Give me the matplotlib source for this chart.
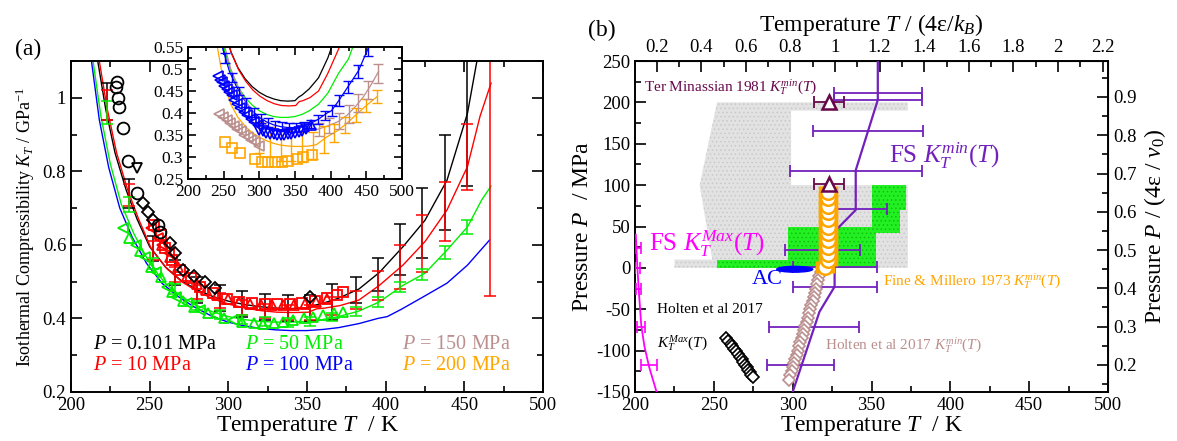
import matplotlib
matplotlib.use('Agg')
from matplotlib import pyplot as plt
from matplotlib.patches import Ellipse, Polygon
from matplotlib.ticker import MultipleLocator, FuncFormatter

plt.rcParams['font.family'] = 'Liberation Serif'
plt.rcParams['mathtext.fontset'] = 'custom'
plt.rcParams['mathtext.rm'] = 'Liberation Serif'
plt.rcParams['mathtext.it'] = 'Liberation Serif:italic'
plt.rcParams['axes.unicode_minus'] = False
plt.rcParams['hatch.linewidth'] = 0.6

BLACK = 'black'
RED = '#ff0000'
GREEN = '#00ee00'
BLUE = '#0000ff'
BROWN = '#bc8f8f'
ORANGE = '#ffa500'
INDIGO = '#7221bc'
MAROON = '#67074a'
MAGENTA = '#ff00ff'

#############################
## (a) simulation isobars K_T(T)
#############################
T_0101 = [217, 222, 228, 235, 242, 250, 260, 270, 280, 290, 300, 310, 320, 330, 340, 350, 355,
          360, 370, 383, 396, 411, 425, 439, 452, 458]
K_0101 = [1.10, 0.97, 0.85, 0.75, 0.67, 0.595, 0.54, 0.503, 0.478, 0.46, 0.447, 0.438, 0.432,
          0.428, 0.427, 0.428, 0.436, 0.441, 0.455, 0.48, 0.525, 0.595, 0.667, 0.776, 0.958, 1.10]

T_10 = [218, 223, 229, 236, 243, 251, 261, 271, 281, 291, 301, 311, 321, 331, 341, 351, 356,
        361, 371, 383, 396, 411, 425, 439, 452, 460, 467]
K_10 = [1.10, 0.97, 0.85, 0.75, 0.67, 0.59, 0.535, 0.498, 0.472, 0.452, 0.438, 0.428, 0.421,
        0.417, 0.416, 0.417, 0.426, 0.428, 0.435, 0.45, 0.49, 0.545, 0.609, 0.695, 0.813, 0.95, 1.04]

T_50 = [214, 219, 225, 232, 240, 250, 260, 270, 280, 290, 300, 310, 320, 330, 340, 350, 360,
        370, 383, 396, 411, 425, 439, 452, 461, 467]
K_50 = [1.10, 0.95, 0.82, 0.71, 0.63, 0.55, 0.495, 0.46, 0.435, 0.418, 0.405, 0.397, 0.392,
        0.39, 0.39, 0.392, 0.397, 0.405, 0.42, 0.445, 0.49, 0.523, 0.586, 0.649, 0.722, 0.76]

T_100 = [213, 218, 224, 231, 239, 248, 258, 268, 278, 290, 300, 310, 320, 330, 340, 350, 360,
         370, 383, 395, 401, 410, 424, 439, 452, 466]
K_100 = [1.10, 0.94, 0.81, 0.70, 0.62, 0.55, 0.495, 0.46, 0.432, 0.405, 0.39, 0.38, 0.373,
         0.369, 0.367, 0.367, 0.37, 0.375, 0.386, 0.40, 0.405, 0.425, 0.459, 0.496, 0.545, 0.613]

T_150 = [230, 240, 250, 260, 270, 280, 290, 300, 310, 320, 330, 340, 350, 360, 370, 380, 395,
         410, 423, 435, 446, 457, 467]
K_150 = [0.75, 0.64, 0.56, 0.50, 0.46, 0.43, 0.405, 0.385, 0.372, 0.364, 0.359, 0.357, 0.357,
         0.358, 0.36, 0.362, 0.37, 0.38, 0.395, 0.415, 0.437, 0.465, 0.494]

T_200 = [240, 250, 260, 270, 280, 290, 300, 310, 320, 330, 340, 350, 360, 370, 380, 395, 410,
         423, 437, 450, 465]
K_200 = [0.56, 0.47, 0.42, 0.39, 0.37, 0.355, 0.345, 0.337, 0.331, 0.327, 0.325, 0.324, 0.324,
         0.325, 0.328, 0.346, 0.36, 0.377, 0.398, 0.417, 0.437]

# error bars on the isobars
TE_main = [223, 237, 252, 266, 280, 295, 309, 323, 338, 352, 366, 381, 395, 409, 423, 438, 452]
KE_0101 = [0.99, 0.74, 0.59, 0.525, 0.478, 0.456, 0.44, 0.432, 0.428, 0.428, 0.445, 0.478,
           0.52, 0.588, 0.66, 0.77, 0.96]
EE_0101 = [0.05, 0.04, 0.035, 0.035, 0.035, 0.035, 0.035, 0.035, 0.035, 0.035, 0.05, 0.035,
           0.045, 0.07, 0.095, 0.13, 0.2]
TE_10 = TE_main + [466]
KE_10 = [0.98, 0.735, 0.585, 0.52, 0.472, 0.448, 0.43, 0.42, 0.416, 0.417, 0.434, 0.45, 0.49,
         0.54, 0.603, 0.69, 0.84, 1.03]
EE_10 = [0.04, 0.03, 0.025, 0.02, 0.02, 0.02, 0.02, 0.02, 0.02, 0.02, 0.025, 0.025, 0.04,
         0.06, 0.077, 0.08, 0.09, 0.57]
KE_50 = [0.96, 0.71, 0.55, 0.48, 0.435, 0.41, 0.397, 0.392, 0.39, 0.392, 0.404, 0.418, 0.445,
         0.486, 0.52, 0.58, 0.649]
EE_50 = [0.03, 0.02, 0.015, 0.013, 0.012, 0.012, 0.012, 0.012, 0.012, 0.012, 0.012, 0.012,
         0.013, 0.013, 0.015, 0.018, 0.02]

TE_100 = [252, 262, 272, 282, 292, 302, 312, 322, 332, 342, 352, 362, 372, 382, 392, 402, 412,
          424, 438, 452]
KE_100 = [0.525, 0.48, 0.45, 0.424, 0.402, 0.388, 0.378, 0.372, 0.369, 0.367, 0.367, 0.37,
          0.375, 0.385, 0.395, 0.406, 0.428, 0.459, 0.494, 0.545]
EE_100 = [0.012, 0.01, 0.01, 0.01, 0.01, 0.01, 0.01, 0.01, 0.01, 0.01, 0.01, 0.01, 0.01, 0.01,
          0.01, 0.012, 0.012, 0.013, 0.015, 0.015]
TE_150 = [383, 398, 412, 425, 439, 452, 466]
KE_150 = [0.363, 0.372, 0.381, 0.398, 0.423, 0.452, 0.49]
EE_150 = [0.015, 0.017, 0.018, 0.02, 0.02, 0.02, 0.022]
TE_200 = [300, 315, 330, 345, 360, 375, 390, 405, 420, 435, 450, 465]
KE_200 = [0.345, 0.334, 0.327, 0.325, 0.324, 0.326, 0.34, 0.355, 0.373, 0.395, 0.417, 0.437]
EE_200 = [0.035, 0.035, 0.035, 0.035, 0.035, 0.03, 0.03, 0.02, 0.018, 0.016, 0.015, 0.015]

# experimental points
Tx_0101_o = [229, 228.6, 229.9, 230.3, 233, 236.2, 241.8, 255.5, 256.6]
Kx_0101_o = [1.042, 1.029, 1.0, 0.975, 0.918, 0.828, 0.74, 0.654, 0.636]
Tx_0101_v = [241.8]
Kx_0101_v = [0.809]
Tx_0101_d = [246, 249, 252.3, 263, 266, 271.4, 278, 285.2, 291.5, 352]
Kx_0101_d = [0.713, 0.69, 0.668, 0.604, 0.577, 0.532, 0.515, 0.50, 0.482, 0.459]

Tx_10_s = [253, 257, 260, 264, 269, 276, 282, 290, 299, 307, 315, 323, 331, 339, 347, 355, 363,
           369, 373]
Kx_10_s = [0.654, 0.627, 0.591, 0.559, 0.532, 0.509, 0.486, 0.468, 0.452, 0.445, 0.442, 0.44,
           0.44, 0.44, 0.442, 0.447, 0.455, 0.465, 0.473]
Tx_10_t = [258, 263, 268, 274, 280, 286, 293, 300, 307, 314, 321, 328, 335, 342, 349, 356, 363]
Kx_10_t = [0.60, 0.567, 0.54, 0.515, 0.495, 0.478, 0.463, 0.452, 0.445, 0.44, 0.437, 0.436,
           0.436, 0.437, 0.44, 0.445, 0.452]
Tx_10_l = [251, 255, 258, 262]
Kx_10_l = [0.645, 0.62, 0.60, 0.577]

Tx_50_l = [233, 241, 247, 254, 261, 267, 274, 282, 292, 303]
Kx_50_l = [0.645, 0.60, 0.568, 0.527, 0.486, 0.459, 0.441, 0.423, 0.409, 0.396]
Tx_50_t = [237, 244, 251, 257, 264, 271, 278, 287, 297, 309, 316, 322, 329, 335, 341, 348, 354,
           360, 367, 373]
Kx_50_t = [0.62, 0.584, 0.541, 0.514, 0.472, 0.448, 0.432, 0.416, 0.402, 0.391, 0.387, 0.386,
           0.387, 0.39, 0.396, 0.40, 0.405, 0.41, 0.414, 0.418]

Tx_100_l = [242, 245, 248, 251, 254, 257, 261, 265, 269, 273, 278, 283, 288, 293, 298]
Kx_100_l = [0.484, 0.476, 0.47, 0.462, 0.455, 0.448, 0.44, 0.43, 0.42, 0.411, 0.403, 0.395,
            0.387, 0.38, 0.372]
Tx_100_v = [300, 305, 310, 315, 320, 325, 330, 335, 340, 345, 350, 355, 360, 365]
Kx_100_v = [0.362, 0.358, 0.355, 0.353, 0.352, 0.351, 0.351, 0.351, 0.352, 0.353, 0.355, 0.357,
            0.36, 0.363]
Tx_100_t = [373]
Kx_100_t = [0.373]

Tx_150_l = [244, 249, 254, 259, 264, 269, 274, 279, 284, 289, 294, 299]
Kx_150_l = [0.397, 0.391, 0.385, 0.378, 0.371, 0.364, 0.358, 0.351, 0.345, 0.339, 0.333, 0.326]

Tx_200_s = [251.9, 261.2, 272.9, 294, 303.3, 312.6, 322, 331.4, 340.7, 352.4, 361.7, 373.5]
Kx_200_s = [0.335, 0.320, 0.308, 0.295, 0.289, 0.288, 0.288, 0.288, 0.292, 0.295, 0.299, 0.305]

#############################
## (b) phase diagram P(T)
#############################
gray_T = [225, 373, 373, 299, 299, 373, 373, 252, 241, 249, 225]
gray_P = [0, 0, 100, 100, 190, 190, 200, 200, 100, 10, 10]
green_T = [252, 353, 353, 368, 368, 372, 372, 350, 350, 297, 297, 252]
green_P = [0, 0, 42, 42, 70, 70, 100, 100, 50, 50, 10, 10]

fsmin_line_T = [354, 354, 340, 340, 326.6, 326.6, 317, 300]
fsmin_line_P = [250, 203, 118, 70, 44, -22.7, -53, -150]
fsmin_T = [354, 354, 347.7, 340, 342, 319, 326.6, 326.6, 313.5, 305]
fsmin_P = [211, 203, 165, 117, 71, 22, 1, -23, -72, -117]
fsmin_err = [28, 28, 35, 42, 18, 24, 26.6, 26.6, 28.3, 21]

fsmax_line_T = [200.5, 201.5, 202.5, 204, 206, 209, 213.7]
fsmax_line_P = [40, 0, -30, -70, -95, -120, -150]
fsmax_T = [202.2, 201.5, 202.3, 204, 208.7]
fsmax_P = [24, 0, -25, -71, -117]
fsmax_err = [1.6, 1.6, 1.6, 2.5, 5]

term_T = [323, 323]
term_P = [201, 101]
term_err = [9.7, 9.7]

fm_P = [1, 9, 17, 25, 34, 42, 50, 59, 67, 75, 84, 92]
fm_T = [320.5, 322.4, 322.4, 322.4, 322.4, 322.4, 322.4, 322.4, 322.4, 322.4, 322.4, 322.4]

holmin_P = [0, -5, -10, -15, -20, -25, -30, -35, -40, -45, -50, -55, -60, -65, -70, -75, -80,
            -85, -90, -95, -100, -105, -110, -115, -120, -125, -130, -135]
holmin_T = [318.5, 317.7, 317.0, 316.3, 315.5, 314.8, 314.0, 313.3, 312.6, 311.8, 311.1, 310.3,
            309.5, 308.8, 308.0, 307.2, 306.5, 305.7, 304.9, 304.1, 303.3, 302.5, 301.7, 300.9,
            300.1, 299.3, 298.5, 297.7]

holmax_T = [258.0, 259.3, 260.6, 261.8, 263.0, 264.2, 265.3, 266.5, 267.6, 268.7, 269.8, 270.8,
            271.8, 272.8, 273.8, 274.9]
holmax_P = [-85, -88.2, -91.4, -94.6, -97.8, -101, -104.2, -107.4, -110.6, -113.8, -117,
            -120.2, -123.4, -126.4, -129.1, -131.5]

ac_T, ac_P = 301.3, -1.7


def g_fmt(v, pos):
    return '%g' % round(v, 3)


def style(ax, fs=13.5):
    for s in ax.spines.values():
        s.set_linewidth(1.4)
    ax.tick_params(which='both', direction='in', labelsize=fs, width=1.2)
    ax.tick_params(which='major', length=8)
    ax.tick_params(which='minor', length=4)


fig = plt.figure(figsize=(11.77, 4.41), dpi=100)
W, H = 1177.0, 441.0

def box(l, t, r, b):
    return [l / W, 1 - b / H, (r - l) / W, (b - t) / H]

#############################
## PANEL (a)
#############################
ax = fig.add_axes(box(71, 61, 543, 392))
style(ax)
ax.tick_params(which='both', top=True, right=True)

ax.plot(T_0101, K_0101, color=BLACK, lw=1)
ax.plot(T_10, K_10, color=RED, lw=1)
ax.plot(T_50, K_50, color=GREEN, lw=1)
ax.plot(T_100, K_100, color=BLUE, lw=1)
eb = dict(fmt='none', elinewidth=1.1, capsize=4.5, capthick=1.1)
ax.errorbar(TE_main, KE_0101, yerr=EE_0101, ecolor=BLACK, **eb)
ax.errorbar(TE_10, KE_10, yerr=EE_10, ecolor=RED, **eb)
ax.errorbar(TE_main, KE_50, yerr=EE_50, ecolor=GREEN, **eb)

mk = dict(ls='none', mfc='none', mew=1.3, ms=7.5)
ax.plot(Tx_50_l, Kx_50_l, marker='<', color=GREEN, **mk)
ax.plot(Tx_50_t, Kx_50_t, marker='^', color=GREEN, **mk)
ax.plot(Tx_10_l, Kx_10_l, marker='<', color=RED, **mk)
ax.plot(Tx_10_t, Kx_10_t, marker='^', color=RED, **mk)
ax.plot(Tx_10_s, Kx_10_s, marker='s', color=RED, **mk)
ax.plot(Tx_0101_o, Kx_0101_o, marker='o', color=BLACK, ls='none', mfc='none', mew=1.3, ms=8.5)
ax.plot(Tx_0101_v, Kx_0101_v, marker='v', color=BLACK, **mk)
ax.plot(Tx_0101_d, Kx_0101_d, marker='D', color=BLACK, ls='none', mfc='none', mew=1.3, ms=6.5)

ax.set_xlim(200, 500)
ax.set_ylim(0.2, 1.1)
ax.xaxis.set_major_locator(MultipleLocator(50))
ax.xaxis.set_minor_locator(MultipleLocator(25))
ax.yaxis.set_major_locator(MultipleLocator(0.2))
ax.yaxis.set_minor_locator(MultipleLocator(0.1))
ax.yaxis.set_major_formatter(FuncFormatter(g_fmt))
ax.set_xlabel('Temperature $T$  / K', fontsize=17, labelpad=0)
ax.set_ylabel('Isothermal Compressibility $K_T$ / GPa$^{-1}$', fontsize=13, labelpad=4)

lab = dict(fontsize=14.5, va='center', ha='left')
ax.text(214, 0.328, '$P$ = 0.101 MPa', color=BLACK, **lab)
ax.text(214, 0.271, '$P$ = 10 MPa', color=RED, **lab)
ax.text(310.6, 0.328, '$P$ = 50 MPa', color=GREEN, **lab)
ax.text(310.6, 0.271, '$P$ = 100 MPa', color=BLUE, **lab)
ax.text(410.2, 0.328, '$P$ = 150 MPa', color=BROWN, **lab)
ax.text(410.2, 0.271, '$P$ = 200 MPa', color=ORANGE, **lab)
fig.text(28 / W, 1 - 49 / H, '(a)', fontsize=17, ha='center', va='center')

## inset
axi = fig.add_axes(box(188, 47, 402, 179))
style(axi, fs=12.5)
axi.tick_params(which='major', length=6)
axi.tick_params(which='minor', length=3)
axi.tick_params(which='both', top=True, right=True)
for T, K, c in [(T_0101, K_0101, BLACK), (T_10, K_10, RED), (T_50, K_50, GREEN),
                (T_100, K_100, BLUE), (T_150, K_150, BROWN), (T_200, K_200, ORANGE)]:
    axi.plot(T, K, color=c, lw=0.9)
ebi = dict(fmt='none', elinewidth=1.0, capsize=3.5, capthick=1.0)
axi.errorbar(TE_200, KE_200, yerr=EE_200, ecolor=ORANGE, **ebi)
axi.errorbar(TE_150, KE_150, yerr=EE_150, ecolor=BROWN, **ebi)
axi.errorbar(TE_100, KE_100, yerr=EE_100, ecolor=BLUE, **ebi)
mki = dict(ls='none', mfc='none', mew=1.2, ms=6.5)
axi.plot(Tx_200_s, Kx_200_s, marker='s', color=ORANGE, **mki)
axi.plot(Tx_150_l, Kx_150_l, marker='<', color=BROWN, **mki)
axi.plot(Tx_100_l, Kx_100_l, marker='<', color=BLUE, **mki)
axi.plot(Tx_100_v, Kx_100_v, marker='v', color=BLUE, **mki)
axi.plot(Tx_100_t, Kx_100_t, marker='^', color=BLUE, **mki)
axi.set_xlim(200, 500)
axi.set_ylim(0.25, 0.55)
axi.xaxis.set_major_locator(MultipleLocator(50))
axi.xaxis.set_minor_locator(MultipleLocator(25))
axi.yaxis.set_major_locator(MultipleLocator(0.05))
axi.yaxis.set_minor_locator(MultipleLocator(0.025))
axi.yaxis.set_major_formatter(FuncFormatter(g_fmt))

#############################
## PANEL (b)
#############################
bx = fig.add_axes(box(635, 61, 1108, 392))
style(bx)
bx.add_patch(Polygon(list(zip(gray_T, gray_P)), closed=True, facecolor='#e2e2e2',
                     edgecolor='#c9c9c9', hatch='....', lw=0, zorder=1))
bx.add_patch(Polygon(list(zip(green_T, green_P)), closed=True, facecolor='#22f022',
                     edgecolor='#10c010', hatch='....', lw=0, zorder=1.1))

bx.plot(fsmin_line_T, fsmin_line_P, color=INDIGO, lw=1.6, zorder=3)
bx.errorbar(fsmin_T, fsmin_P, xerr=fsmin_err, fmt='none', ecolor=INDIGO, elinewidth=1.3,
            capsize=4, capthick=1.3, zorder=3)
bx.plot(fsmax_line_T, fsmax_line_P, color=MAGENTA, lw=1.3, zorder=3)
bx.errorbar(fsmax_T, fsmax_P, xerr=fsmax_err, fmt='none', ecolor=MAGENTA, elinewidth=1.2,
            capsize=4, capthick=1.2, zorder=3)

bx.add_patch(Ellipse((ac_T, ac_P), width=22.8, height=7, facecolor=BLUE, edgecolor=BLUE,
                     zorder=4))
bx.plot(holmin_T, holmin_P, ls='none', marker='D', ms=6.5, mfc='white', mec=BROWN, mew=1.2,
        zorder=5)
bx.plot(holmax_T, holmax_P, ls='none', marker='D', ms=6, mfc='white', mec=BLACK, mew=1.2,
        zorder=5)
bx.errorbar(fm_T, fm_P, xerr=5.3, fmt='none', ecolor=ORANGE, elinewidth=1.2, capsize=4,
            capthick=2.5, zorder=5)
bx.plot(fm_T, fm_P, ls='none', marker='o', ms=10.5, mfc='white', mec=ORANGE, mew=1.8,
        zorder=6)
bx.errorbar(term_T, term_P, xerr=term_err, fmt='none', ecolor=MAROON, elinewidth=1.3,
            capsize=4, capthick=1.3, zorder=7)
bx.plot(term_T, term_P, ls='none', marker='^', ms=10, mfc='white', mec=MAROON, mew=1.8,
        zorder=8)

bx.set_xlim(200, 500)
bx.set_ylim(-150, 250)
bx.xaxis.set_major_locator(MultipleLocator(50))
bx.xaxis.set_minor_locator(MultipleLocator(25))
bx.yaxis.set_major_locator(MultipleLocator(50))
bx.yaxis.set_minor_locator(MultipleLocator(25))
bx.set_xlabel('Temperature $T$  / K', fontsize=17, labelpad=0)
bx.set_ylabel('Pressure $P$  / MPa', fontsize=17, labelpad=2)

small = dict(fontsize=11, va='center', ha='left')
bx.text(206, 218, 'Ter Minassian 1981 $K_T^{min}(T)$', color=MAROON, **small)
bx.text(361, 136, 'FS $K_T^{min}(T)$', color=INDIGO, fontsize=18, va='center', ha='left')
bx.text(209, 30, 'FS $K_T^{Max}(T)$', color=MAGENTA, fontsize=18, va='center', ha='left')
bx.text(274, -14.6, 'AC', color=BLUE, fontsize=16, va='center', ha='left')
bx.text(357, -16, 'Fine & Millero 1973 $K_T^{min}(T)$', color=ORANGE, **small)
bx.text(320.3, -93, 'Holten et al 2017 $K_T^{min}(T)$', color=BROWN, **small)
bx.text(213.7, -50, 'Holten et al 2017', color=BLACK, **small)
bx.text(213.7, -91, '$K_T^{Max}(T)$', color=BLACK, **small)
fig.text(601.7 / W, 1 - 30 / H, '(b)', fontsize=17, ha='center', va='center')

# reduced units on the opposite axes
t0, tk = 0.103, 0.00707
p0, pk = 0.129, 0.0021625
top = bx.secondary_xaxis('top', functions=(lambda t: t0 + (t - 200) * tk,
                                           lambda r: 200 + (r - t0) / tk))
top.xaxis.set_major_locator(MultipleLocator(0.2))
top.xaxis.set_minor_locator(MultipleLocator(0.1))
top.xaxis.set_major_formatter(FuncFormatter(g_fmt))
top.tick_params(which='both', direction='in', labelsize=13.5, width=1.2)
top.tick_params(which='major', length=8)
top.tick_params(which='minor', length=4)
top.set_xlabel('Temperature $T$ / (4\u03b5/$k_B$)', fontsize=17, labelpad=6)

right = bx.secondary_yaxis('right', functions=(lambda p: p0 + (p + 150) * pk,
                                               lambda r: -150 + (r - p0) / pk))
right.yaxis.set_major_locator(MultipleLocator(0.1))
right.yaxis.set_minor_locator(MultipleLocator(0.05))
right.yaxis.set_major_formatter(FuncFormatter(g_fmt))
right.tick_params(which='both', direction='in', labelsize=13.5, width=1.2)
right.tick_params(which='major', length=8)
right.tick_params(which='minor', length=4)
right.set_ylabel('Pressure $P$ / (4\u03b5 / $v_0$)', fontsize=17, labelpad=4)

plt.savefig('out.png', dpi=100)
